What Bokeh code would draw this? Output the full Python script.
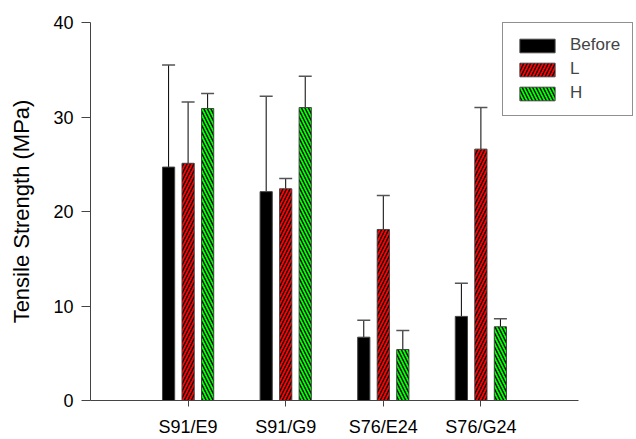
import numpy as np
from bokeh.plotting import figure
from bokeh.models import (ColumnDataSource, Whisker, TeeHead, FixedTicker,
                          Legend, LegendItem, Range1d)
from bokeh.embed import file_html
from bokeh.resources import INLINE

# Sample groups and measured tensile strength (MPa)
categories = ["S91/E9", "S91/G9", "S76/E24", "S76/G24"]
series = ["Before", "L", "H"]
before_vals = [24.7, 22.1, 6.7, 8.9]
before_err = [10.8, 10.1, 1.8, 3.5]
l_vals = [25.1, 22.4, 18.1, 26.6]
l_err = [6.5, 1.1, 3.6, 4.4]
h_vals = [30.9, 31.0, 5.4, 7.8]
h_err = [1.6, 3.3, 2.0, 0.85]
y_ticks = [0, 10, 20, 30, 40]

FONT = "Liberation Sans"
AXIS_COLOR = "#444444"

# the frame runs to the right edge so the legend box fits; the x axis line
# itself stops at 5 via its bounds
X_END = 5.0
FRAME_W = 636 - 90
AXIS_W = 488
p = figure(width=636, height=439, output_backend="svg", toolbar_location=None,
           x_range=Range1d(0, X_END * FRAME_W / AXIS_W), y_range=Range1d(0, 40),
           min_border_left=90, min_border_right=0,
           min_border_top=22, min_border_bottom=38)
p.outline_line_color = None
p.xgrid.visible = False
p.ygrid.visible = False

pos = np.arange(1, len(categories) + 1)
bar_w = 0.125
offsets = [-0.2, 0.0, 0.2]
styles = [
    dict(fill_color="black", hatch_pattern=None),
    dict(fill_color="#ff0000", hatch_pattern="right_diagonal_line"),
    dict(fill_color="#00ff00", hatch_pattern="left_diagonal_line"),
]
vals = [before_vals, l_vals, h_vals]
errs = [before_err, l_err, h_err]

renderers = []
for name, v, e, off, st in zip(series, vals, errs, offsets, styles):
    v = np.array(v)
    e = np.array(e)
    src = ColumnDataSource(dict(x=pos + off, top=v, upper=v + e))
    kw = dict(x="x", top="top", width=bar_w, bottom=0, source=src,
              fill_color=st["fill_color"], line_color=AXIS_COLOR, line_width=1)
    if st["hatch_pattern"]:
        kw.update(hatch_pattern=st["hatch_pattern"], hatch_color="black",
                  hatch_scale=7, hatch_weight=1.3)
    r = p.vbar(**kw)
    renderers.append(r)
    w = Whisker(base="x", lower="top", upper="upper", source=src,
                line_color="black", line_width=1,
                upper_head=TeeHead(size=13, line_color="#555555", line_width=1.5),
                lower_head=None)
    p.add_layout(w)

# axes
p.xaxis.ticker = FixedTicker(ticks=list(pos))
p.xaxis.major_label_overrides = {int(i): c for i, c in zip(pos, categories)}
p.xaxis.bounds = (0, X_END)
p.xaxis.minor_tick_line_color = None
p.xaxis.major_tick_in = 0
p.xaxis.major_tick_out = 6
p.xaxis.major_label_standoff = 10
p.yaxis.ticker = FixedTicker(ticks=y_ticks)
p.yaxis.minor_tick_line_color = None
p.yaxis.major_tick_in = 0
p.yaxis.major_tick_out = 9
p.yaxis.major_label_standoff = 8
p.yaxis.axis_label = "Tensile Strength (MPa)"
p.yaxis.axis_label_standoff = 16
for ax in (p.xaxis, p.yaxis):
    ax.axis_line_color = AXIS_COLOR
    ax.major_tick_line_color = AXIS_COLOR
    ax.major_label_text_font = FONT
    ax.major_label_text_font_size = "18px"
    ax.major_label_text_color = "black"
p.yaxis.axis_label_text_font = FONT
p.yaxis.axis_label_text_font_size = "22px"
p.yaxis.axis_label_text_font_style = "normal"
p.yaxis.axis_label_text_color = "black"

legend = Legend(items=[LegendItem(label=n, renderers=[r]) for n, r in zip(series, renderers)],
                location=(412, 284), orientation="vertical",
                glyph_width=44, glyph_height=17, spacing=4, padding=12,
                label_standoff=11, label_height=19,
                label_text_font=FONT, label_text_font_size="17px",
                border_line_color="#222222", border_line_width=1.5, margin=0,
                background_fill_alpha=1)
p.add_layout(legend)

open("out.html", "w").write(file_html(p, INLINE))
